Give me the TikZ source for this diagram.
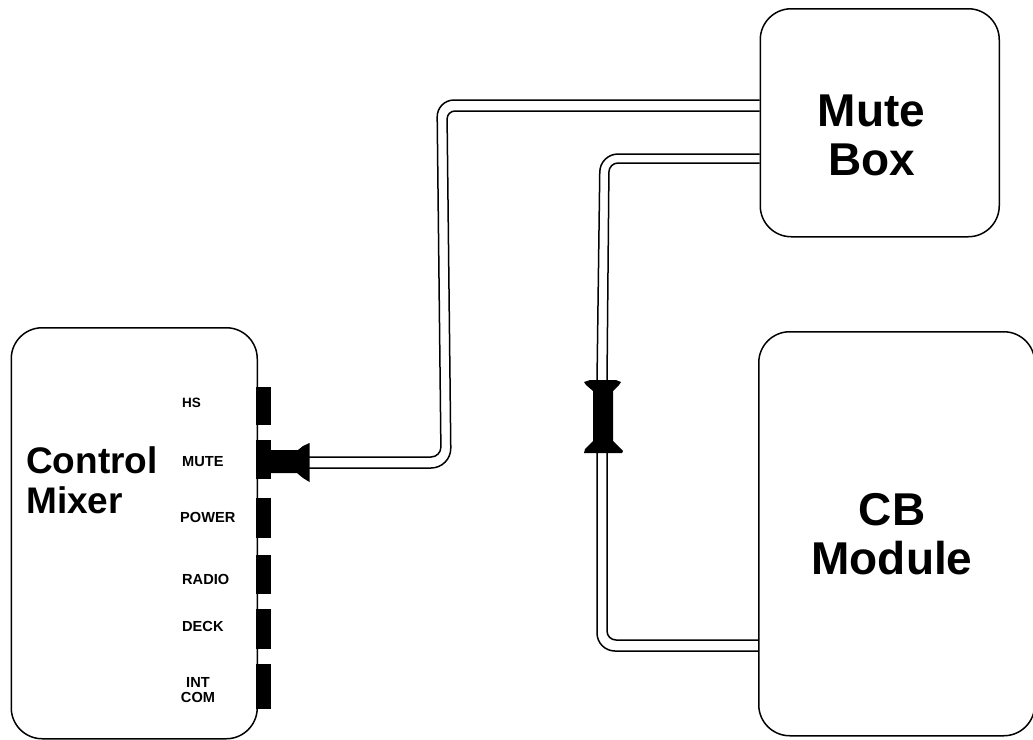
\documentclass[tikz,border=0pt]{standalone}
\usepackage{fontspec}
\setmainfont{Liberation Sans}
\tikzset{
  unit/.style={draw=black, line width=1.5pt, rounded corners=31pt, inner sep=0pt, anchor=north west},
  title/.style={font=\bfseries\fontsize{#1}{#1}\selectfont, align=center, inner sep=0pt, text=black},
  bigtitle/.style={font=\bfseries\fontsize{46}{49}\selectfont, align=center, inner sep=0pt, text=black},
  tag/.style={font=\bfseries\fontsize{14.6}{15}\selectfont, align=center, inner sep=0pt, anchor=base west},
  jackbar/.style={fill=black, draw=none, inner sep=0pt, anchor=north west, minimum width=14.5pt},
  wire/.style={draw=black, line width=1.5pt},
  plugfill/.style={fill=black, draw=none}
}
\begin{document}
\begin{tikzpicture}[x=1pt,y=-1pt]
\useasboundingbox (0,0) rectangle (1033,739);
\fill[white] (0,0) rectangle (1033,739);
% boxes
\node[unit, minimum width=246pt, minimum height=411pt] (mixer) at (10.5,327) {};
\node[unit, minimum width=239pt, minimum height=228pt] (mutebox) at (759.5,8) {};
\node[unit, minimum width=276pt, minimum height=404pt] (cb) at (758,331) {};
% titles
\node[title=37, anchor=base west] (mixtitle) at (26,473) {Control};
\node[title=37, anchor=base west] (mixtitle2) at (26,513) {Mixer};
\node[bigtitle] (mutetitle) at (871.5,135) {Mute\\Box};
\node[bigtitle] (cbtitle) at (892,534) {CB\\Module};
% jacks
\node[jackbar, minimum height=38pt] (jhs) at (256,387) {};
\node[jackbar, minimum height=39pt] (jmute) at (256,440) {};
\node[jackbar, minimum height=40pt] (jpower) at (256,498) {};
\node[jackbar, minimum height=39pt] (jradio) at (256,555) {};
\node[jackbar, minimum height=40pt] (jdeck) at (256,609) {};
\node[jackbar, minimum height=45pt] (jint) at (256,664) {};
% tags
\node[tag, font=\bfseries\fontsize{13.5}{15}\selectfont] (thsl) at (182,407) {HS};
\node[tag] (tmute) at (182,466) {MUTE};
\node[tag] (tpower) at (180,522) {POWER};
\node[tag] (tradio) at (182,584) {RADIO};
\node[tag] (tdeck) at (182,631) {DECK};
\node[tag, anchor=center] (tint) at (198,690.5) {INT\\COM};
% plug on the mixer
\fill[plugfill] (jmute.east |- 0,450) -- (298,450) -- (303,446) -- (309.5,443) -- (309.5,482) -- (303,478) -- (297,473) -- (jmute.east |- 0,473) -- cycle;
\coordinate (pa) at (309,457);
\coordinate (pb) at (309,468);
% inline connector
\fill[plugfill] (584,382) -- (590,380) -- (616,380) -- (621,382) -- (619,385) -- (613,391) -- (613,441) -- (618,446) -- (623,451) -- (622,453) -- (584,453) -- (585,449) -- (593,441) -- (593,391) -- (586,385) -- cycle;
\coordinate (qa) at (597,381);
\coordinate (qb) at (607,381);
\coordinate (ra) at (597,453);
\coordinate (rb) at (607,453);
% cables
\draw[wire] (pa) [rounded corners=10pt] -- (441,457) [rounded corners=17pt] -- (437,100) -- (mutebox.west |- 0,100);
\draw[wire] (pb) [rounded corners=20pt] -- (451,468) [rounded corners=8pt] -- (447,111) -- (mutebox.west |- 0,111);
\draw[wire] (qa) [rounded corners=18pt] -- (600,154) -- (mutebox.west |- 0,154);
\draw[wire] (qb) [rounded corners=9pt] -- (609,163) -- (mutebox.west |- 0,163);
\draw[wire] (ra) [rounded corners=18pt] -- (597,651) -- (cb.west |- 0,651);
\draw[wire] (rb) [rounded corners=9pt] -- (607,640) -- (cb.west |- 0,640);
\end{tikzpicture}
\end{document}
